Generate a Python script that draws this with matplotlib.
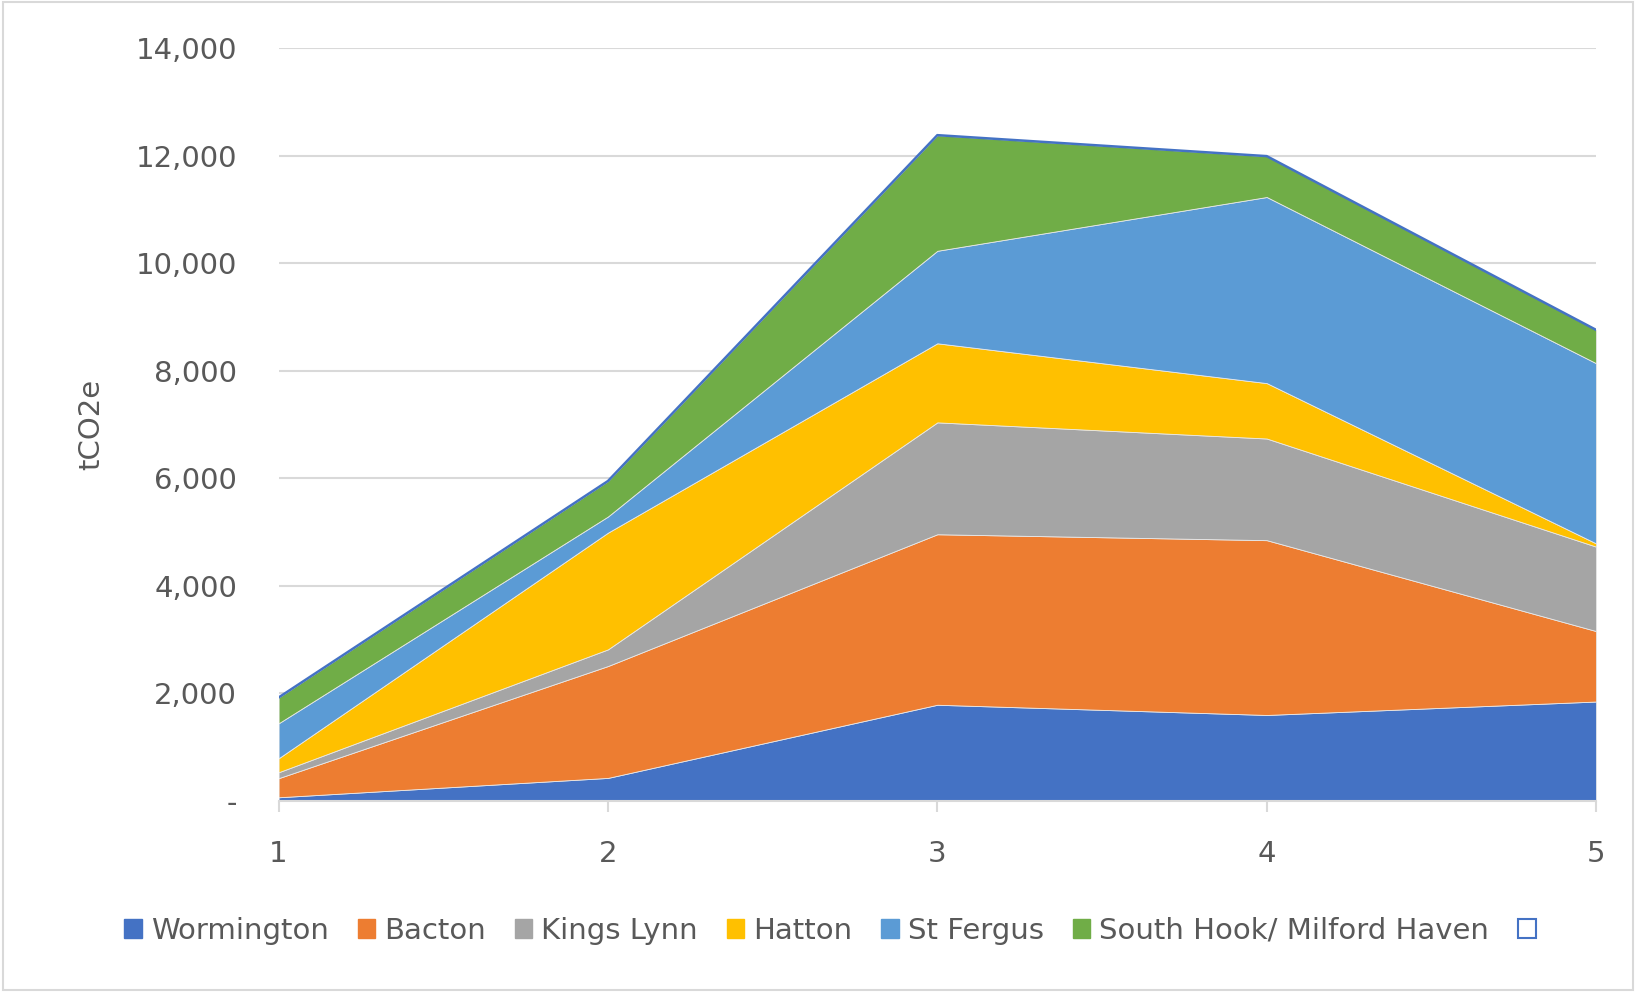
import matplotlib.pyplot as plt
import numpy as np
from matplotlib.patches import Patch, Rectangle
from matplotlib.ticker import FuncFormatter

plt.rcParams['font.family'] = ['DejaVu Sans']

years = [1, 2, 3, 4, 5]
wormington = [70, 430, 1790, 1600, 1850]
bacton = [355, 2080, 3170, 3250, 1310]
kings_lynn = [110, 310, 2080, 1890, 1570]
hatton = [260, 2170, 1470, 1030, 60]
st_fergus = [650, 300, 1720, 3460, 3350]
south_hook = [480, 660, 2150, 760, 620]

names = ["Wormington", "Bacton", "Kings Lynn", "Hatton", "St Fergus",
         "South Hook/ Milford Haven"]
colors = ['#4472C4', '#ED7D31', '#A5A5A5', '#FFC000', '#5B9BD5', '#70AD47']
series = [wormington, bacton, kings_lynn, hatton, st_fergus, south_hook]

fig = plt.figure(figsize=(16.36, 9.92), dpi=100)
ax = fig.add_axes([0.1703, 0.1925, 0.8053, 0.7591])

ax.stackplot(years, *series, colors=colors, labels=names, linewidth=0.6,
             edgecolor='#e8e8e8')
total = np.sum(series, axis=0)
ax.plot(years, total, color='#4472C4', lw=1.8)

ax.set_xlim(1, 5)
ax.set_ylim(0, 14000)
ax.set_xticks(years)
ax.set_yticks(range(0, 14001, 2000))
ax.yaxis.set_major_formatter(FuncFormatter(lambda v, p: '-' if v == 0 else f'{int(v):,}'))
ax.grid(axis='y', color='#D9D9D9', lw=1.5)
ax.set_axisbelow(True)
for s in ['top', 'right', 'left']:
    ax.spines[s].set_visible(False)
ax.spines['bottom'].set_color('#D9D9D9')
ax.spines['bottom'].set_linewidth(1.5)
ax.tick_params(axis='y', length=0, pad=30, labelsize=21, labelcolor='#595959')
ax.tick_params(axis='x', length=8, width=1.5, color='#D9D9D9', pad=20,
               labelsize=21, labelcolor='#595959')
ax.set_ylabel("tCO2e", fontsize=21, color='#595959', labelpad=22)

handles = [Patch(color=c) for c in colors]
handles.append(Patch(facecolor='white', edgecolor='#4472C4', lw=1.5))
fig.legend(handles, names + [''], loc='center', bbox_to_anchor=(0.51, 0.0615),
           ncol=7, frameon=False, fontsize=21, labelcolor='#595959',
           handlelength=0.6, handleheight=0.6, handletextpad=0.3,
           columnspacing=1.0)

fig.patches.append(Rectangle((0.002, 0.002), 0.996, 0.996, transform=fig.transFigure,
                             fill=False, edgecolor='#D9D9D9', lw=1.5))

fig.savefig("out.png", dpi=100)
